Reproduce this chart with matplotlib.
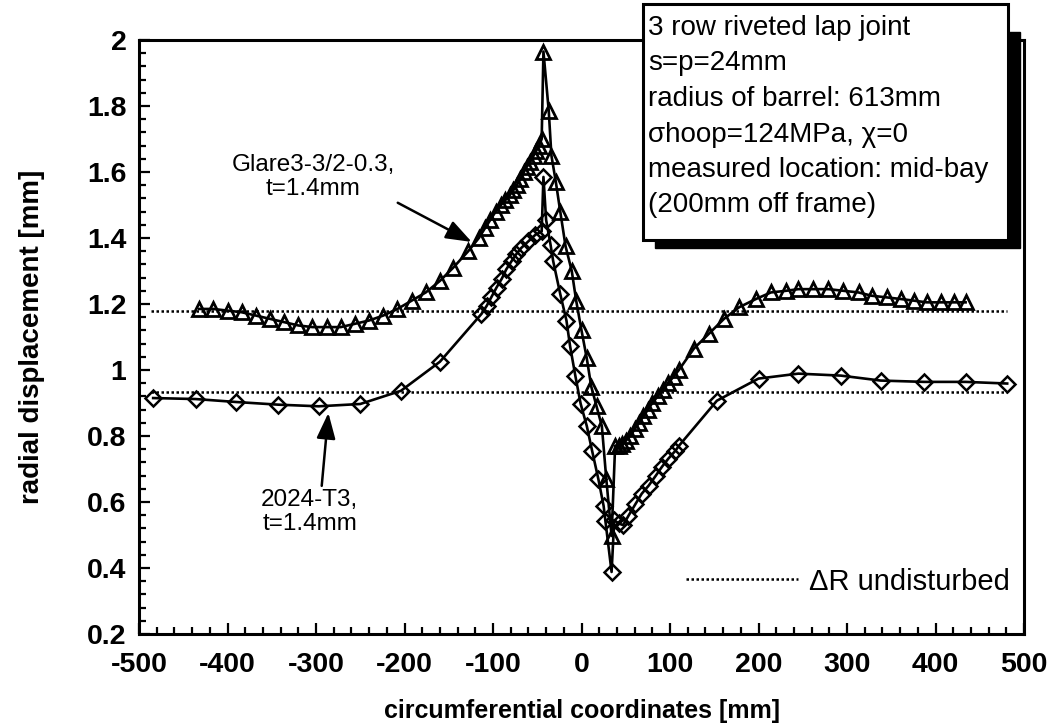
import matplotlib
matplotlib.use("Agg")
import matplotlib.pyplot as plt
from matplotlib.patches import Rectangle
from matplotlib.lines import Line2D
from matplotlib.ticker import MultipleLocator

plt.rcParams['font.family'] = ['Liberation Sans', 'DejaVu Sans']

# ---------------- data ----------------
glare_x = [-432, -416, -400, -384, -368, -352, -336, -320, -304, -288, -272, -256,
           -240, -224, -208, -192, -176, -160, -145, -128, -116,
           -109, -103, -97, -91, -86, -81, -77, -73, -69, -65, -62, -58, -54, -51,
           -48, -45, -43, -37, -34, -29, -24, -18, -11, -6, 0, 6, 11, 17, 23, 28, 34,
           38, 42, 46, 50, 55, 60, 65, 70, 75, 80, 86, 92, 98, 104, 110,
           127, 144, 161, 178, 197, 214, 231, 245, 262, 279, 296, 313, 328, 345,
           361, 376, 390, 406, 421, 434]
glare_y = [1.185, 1.185, 1.18, 1.175, 1.165, 1.155, 1.145, 1.135, 1.13, 1.13, 1.13, 1.14,
           1.15, 1.165, 1.185, 1.21, 1.235, 1.27, 1.31, 1.36, 1.40,
           1.43, 1.455, 1.48, 1.50, 1.515, 1.53, 1.545, 1.56, 1.58, 1.60, 1.615, 1.63, 1.65, 1.665,
           1.68, 1.70, 1.965, 1.785, 1.65, 1.57, 1.48, 1.375, 1.30, 1.21, 1.12, 1.035, 0.95, 0.89, 0.83, 0.67, 0.497,
           0.77, 0.77, 0.775, 0.785, 0.80, 0.82, 0.84, 0.86, 0.88, 0.90, 0.92, 0.94, 0.96, 0.98, 1.0,
           1.065, 1.11, 1.155, 1.19, 1.215, 1.235, 1.24, 1.245, 1.245, 1.245, 1.24, 1.235, 1.225, 1.22,
           1.215, 1.21, 1.205, 1.205, 1.205, 1.205]

al_x = [-484, -436, -390, -343, -297, -250, -204, -160,
        -113, -107, -102, -96, -90, -85, -79, -74, -68, -60, -52, -45,
        -43, -40, -35, -32, -24, -17, -13, -7, -1, 6, 12, 19, 25, 27, 34,
        37, 42, 47, 53, 61, 68, 76, 84, 91, 98, 106, 110,
        153, 200, 245, 293, 338, 387, 434, 481]
al_y = [0.915, 0.912, 0.903, 0.895, 0.89, 0.897, 0.937, 1.025,
        1.17, 1.195, 1.22, 1.25, 1.277, 1.305, 1.33, 1.35, 1.37, 1.39, 1.41, 1.42,
        1.585, 1.455, 1.38, 1.33, 1.23, 1.15, 1.074, 0.983, 0.898, 0.83, 0.755, 0.67, 0.588, 0.543, 0.388,
        0.545, 0.535, 0.53, 0.558, 0.594, 0.625, 0.65, 0.68, 0.707, 0.731, 0.755, 0.77,
        0.907, 0.974, 0.989, 0.983, 0.968, 0.964, 0.964, 0.959]

undisturbed_x = [-487, 481]
undisturbed_glare = 1.178
undisturbed_al = 0.933

x_ticks = [-500, -400, -300, -200, -100, 0, 100, 200, 300, 400, 500]
y_ticks = [0.2, 0.4, 0.6, 0.8, 1.0, 1.2, 1.4, 1.6, 1.8, 2.0]

box_lines = ["3 row riveted lap joint", "s=p=24mm", "radius of barrel: 613mm",
             "σhoop=124MPa, χ=0", "measured location: mid-bay", "(200mm off frame)"]

# ---------------- figure ----------------
W, H = 1054, 727
fig = plt.figure(figsize=(W / 100, H / 100), dpi=100)
L, R, T, B = 139, 1024, 40, 634
ax = fig.add_axes([L / W, 1 - B / H, (R - L) / W, (B - T) / H])

ax.hlines([undisturbed_glare, undisturbed_al], undisturbed_x[0], undisturbed_x[1],
          colors='black', linestyles=(0, (1, 1)), linewidth=1.8, zorder=1)

ax.plot(glare_x, glare_y, color='black', lw=1.9, marker='^', ms=10.5,
        mfc='none', mec='black', mew=2.0, zorder=3)
ax.plot(al_x, al_y, color='black', lw=1.9, marker='D', ms=8.0,
        mfc='none', mec='black', mew=1.8, zorder=2)

ax.set_xlim(-500, 500)
ax.set_ylim(0.2, 2.0)
ax.set_xticks(x_ticks)
ax.set_yticks(y_ticks)
ax.set_xticklabels([str(v) for v in x_ticks])
ax.set_yticklabels([('%g' % v) for v in y_ticks])
ax.xaxis.set_minor_locator(MultipleLocator(20))
ax.yaxis.set_minor_locator(MultipleLocator(0.04))
ax.tick_params(which='both', direction='in', top=False, right=False, width=1.6)
ax.tick_params(which='major', length=8, labelsize=20.5)
ax.tick_params(axis='x', which='major', pad=13)
ax.tick_params(axis='y', which='major', pad=9)
ax.tick_params(which='minor', length=5)
for lab in ax.get_xticklabels() + ax.get_yticklabels():
    lab.set_fontweight('bold')
for s in ax.spines.values():
    s.set_linewidth(2.2)

ax.set_xlabel('circumferential coordinates [mm]', fontsize=18, fontweight='bold', labelpad=15)
ax.set_ylabel('radial displacement [mm]', fontsize=20, fontweight='bold', labelpad=30)

# annotations
ax.annotate('Glare3-3/2-0.3,\nt=1.4mm', xy=(-124, 1.388), xytext=(-303, 1.585),
            fontsize=17.5, ha='center', va='center', linespacing=1.15,
            arrowprops=dict(arrowstyle='-|>,head_length=0.9,head_width=0.33', color='black',
                            lw=1.8, shrinkA=0, shrinkB=0, relpos=(0.88, 0.2)))
ax.annotate('2024-T3,\nt=1.4mm', xy=(-286, 0.87), xytext=(-307, 0.57),
            fontsize=17.5, ha='center', va='center', linespacing=1.15,
            arrowprops=dict(arrowstyle='-|>,head_length=0.9,head_width=0.33', color='black',
                            lw=1.8, shrinkA=0, shrinkB=0, relpos=(0.62, 1.0)))

# legend
h = Line2D([], [], color='black', linestyle=(0, (1, 1)), linewidth=1.8)
ax.legend([h], ['ΔR undisturbed'], loc='lower right', bbox_to_anchor=(1.0, 0.04),
          frameon=False, fontsize=21, handlelength=3.85, handletextpad=0.35, borderaxespad=0.1)

# text box with shadow
bx0, by0, bx1, by1 = 643, 4, 1008, 240
fig.add_artist(Rectangle(((bx0 + 12) / W, 1 - (by1 + 8) / H), (bx1 - bx0) / W, (by1 - by0 - 20) / H,
                         transform=fig.transFigure, facecolor='black', edgecolor='black', zorder=5))
fig.add_artist(Rectangle((bx0 / W, 1 - by1 / H), (bx1 - bx0) / W, (by1 - by0) / H,
                         transform=fig.transFigure, facecolor='white', edgecolor='black',
                         linewidth=2.2, zorder=6))
for i, line in enumerate(box_lines):
    fig.text(648 / W, 1 - (35 + 35.5 * i) / H, line, fontsize=20, ha='left', va='baseline', zorder=7)

fig.savefig('out.png', dpi=100)
